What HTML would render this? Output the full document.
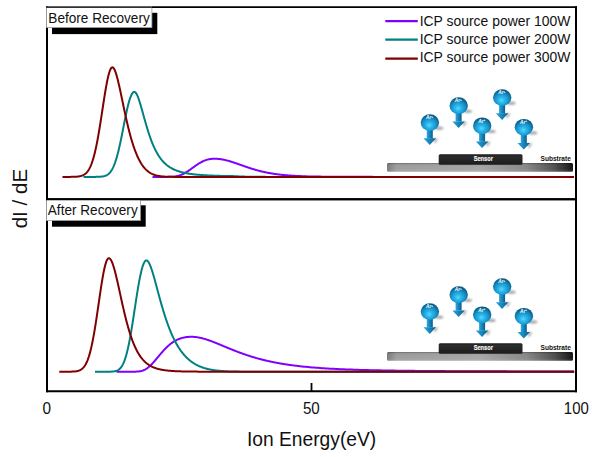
<!DOCTYPE html>
<html><head><meta charset="utf-8">
<style>
html,body{margin:0;padding:0;background:#fff;width:600px;height:457px;overflow:hidden}
svg{display:block}
text{font-family:"Liberation Sans",sans-serif}
</style></head>
<body>
<svg width="600" height="457" viewBox="0 0 600 457">
<defs>
  <radialGradient id="sph" cx="0.48" cy="0.64" r="0.58" fx="0.46" fy="0.66">
    <stop offset="0" stop-color="#52daff"/>
    <stop offset="0.28" stop-color="#2cb8ec"/>
    <stop offset="0.68" stop-color="#168ec6"/>
    <stop offset="1" stop-color="#0a5c88"/>
  </radialGradient>
  <linearGradient id="arr" x1="0" y1="0" x2="1" y2="0">
    <stop offset="0" stop-color="#2ca6dc"/>
    <stop offset="0.45" stop-color="#1888c0"/>
    <stop offset="1" stop-color="#0b5c88"/>
  </linearGradient>
  <linearGradient id="subH" x1="0" y1="0" x2="1" y2="0">
    <stop offset="0" stop-color="#7a7a7a"/>
    <stop offset="0.05" stop-color="#9e9e9e"/>
    <stop offset="0.5" stop-color="#a6a6a6"/>
    <stop offset="0.75" stop-color="#888888"/>
    <stop offset="0.9" stop-color="#505050"/>
    <stop offset="1" stop-color="#141414"/>
  </linearGradient>
  <linearGradient id="subV" x1="0" y1="0" x2="0" y2="1">
    <stop offset="0" stop-color="#000" stop-opacity="0.45"/>
    <stop offset="0.12" stop-color="#000" stop-opacity="0.08"/>
    <stop offset="0.6" stop-color="#fff" stop-opacity="0"/>
    <stop offset="1" stop-color="#fff" stop-opacity="0.1"/>
  </linearGradient>
  <linearGradient id="sens" x1="0" y1="0" x2="0" y2="1">
    <stop offset="0" stop-color="#1a1a1a"/>
    <stop offset="0.2" stop-color="#2c2c2c"/>
    <stop offset="1" stop-color="#1c1c1c"/>
  </linearGradient>
  <filter id="blur" x="-80%" y="-80%" width="260%" height="260%"><feGaussianBlur stdDeviation="1"/></filter>
  <g id="ion">
    <ellipse cx="9.2" cy="5.6" rx="4.3" ry="1.6" fill="#000" opacity="0.35" filter="url(#blur)"/>
    <path d="M3.2 16 L8.6 16 L5 21.5 Z" fill="#000" opacity="0.3" filter="url(#blur)"/>
    <rect x="-3.1" y="6" width="6.0" height="9.9" fill="url(#arr)"/>
    <path d="M-6.4 15.7 L6.1 15.7 L-0.15 22.3 Z" fill="url(#arr)"/>
    <ellipse cx="0" cy="0" rx="9.2" ry="8.4" fill="url(#sph)"/>
    <text x="-0.4" y="-3.3" font-size="4.7" font-weight="700" font-style="italic" fill="#fff" text-anchor="middle">Ar<tspan font-size="2.8" dy="-1.6">+</tspan></text>
  </g>
</defs>

<!-- curves -->
<g fill="none" stroke-width="2" stroke-linejoin="round" stroke-linecap="butt">
  <path d="M152.5 176.90 L153.0 176.90 L153.5 176.90 L154.0 176.90 L154.5 176.90 L155.0 176.90 L155.5 176.90 L156.0 176.90 L156.5 176.90 L157.0 176.90 L157.5 176.90 L158.0 176.90 L158.5 176.90 L159.0 176.90 L159.5 176.90 L160.0 176.90 L160.5 176.90 L161.0 176.90 L161.5 176.90 L162.0 176.90 L162.5 176.90 L163.0 176.90 L163.5 176.90 L164.0 176.90 L164.5 176.90 L165.0 176.89 L165.5 176.89 L166.0 176.89 L166.5 176.89 L167.0 176.88 L167.5 176.88 L168.0 176.87 L168.5 176.86 L169.0 176.85 L169.5 176.84 L170.0 176.83 L170.5 176.81 L171.0 176.79 L171.5 176.76 L172.0 176.73 L172.5 176.70 L173.0 176.66 L173.5 176.62 L174.0 176.56 L174.5 176.51 L175.0 176.44 L175.5 176.37 L176.0 176.29 L176.5 176.20 L177.0 176.10 L177.5 175.99 L178.0 175.87 L178.5 175.74 L179.0 175.59 L179.5 175.44 L180.0 175.28 L180.5 175.10 L181.0 174.91 L181.5 174.71 L182.0 174.50 L182.5 174.27 L183.0 174.04 L183.5 173.79 L184.0 173.53 L184.5 173.26 L185.0 172.99 L185.5 172.70 L186.0 172.40 L186.5 172.09 L187.0 171.77 L187.5 171.44 L188.0 171.11 L188.5 170.77 L189.0 170.43 L189.5 170.08 L190.0 169.72 L190.5 169.37 L191.0 169.00 L191.5 168.64 L192.0 168.28 L192.5 167.91 L193.0 167.55 L193.5 167.18 L194.0 166.82 L194.5 166.46 L195.0 166.10 L195.5 165.75 L196.0 165.40 L196.5 165.06 L197.0 164.72 L197.5 164.39 L198.0 164.06 L198.5 163.75 L199.0 163.44 L199.5 163.13 L200.0 162.84 L200.5 162.56 L201.0 162.28 L201.5 162.01 L202.0 161.76 L202.5 161.51 L203.0 161.28 L203.5 161.05 L204.0 160.84 L204.5 160.63 L205.0 160.44 L205.5 160.26 L206.0 160.08 L206.5 159.92 L207.0 159.77 L207.5 159.63 L208.0 159.50 L208.5 159.38 L209.0 159.27 L209.5 159.18 L210.0 159.09 L210.5 159.01 L211.0 158.94 L211.5 158.89 L212.0 158.84 L212.5 158.80 L213.0 158.77 L213.5 158.75 L214.0 158.73 L214.5 158.73 L215.0 158.73 L215.5 158.74 L216.0 158.76 L216.5 158.78 L217.0 158.81 L217.5 158.84 L218.0 158.88 L218.5 158.92 L219.0 158.98 L219.5 159.03 L220.0 159.10 L220.5 159.16 L221.0 159.24 L221.5 159.31 L222.0 159.40 L222.5 159.49 L223.0 159.58 L223.5 159.68 L224.0 159.78 L224.5 159.89 L225.0 160.00 L225.5 160.12 L226.0 160.24 L226.5 160.36 L227.0 160.49 L227.5 160.62 L228.0 160.76 L228.5 160.90 L229.0 161.04 L229.5 161.18 L230.0 161.33 L230.5 161.48 L231.0 161.63 L231.5 161.79 L232.0 161.95 L232.5 162.11 L233.0 162.27 L233.5 162.44 L234.0 162.60 L234.5 162.77 L235.0 162.94 L235.5 163.11 L236.0 163.28 L236.5 163.45 L237.0 163.63 L237.5 163.80 L238.0 163.98 L238.5 164.16 L239.0 164.33 L239.5 164.51 L240.0 164.69 L240.5 164.86 L241.0 165.04 L241.5 165.22 L242.0 165.40 L242.5 165.57 L243.0 165.75 L243.5 165.93 L244.0 166.10 L244.5 166.28 L245.0 166.45 L245.5 166.62 L246.0 166.80 L246.5 166.97 L247.0 167.14 L247.5 167.31 L248.0 167.48 L248.5 167.64 L249.0 167.81 L249.5 167.97 L250.0 168.14 L250.5 168.30 L251.0 168.46 L251.5 168.62 L252.0 168.77 L252.5 168.93 L253.0 169.08 L253.5 169.24 L254.0 169.39 L254.5 169.53 L255.0 169.68 L255.5 169.83 L256.0 169.97 L256.5 170.11 L257.0 170.25 L257.5 170.39 L258.0 170.52 L258.5 170.66 L259.0 170.79 L259.5 170.92 L260.0 171.04 L260.5 171.17 L261.0 171.29 L261.5 171.41 L262.0 171.53 L262.5 171.65 L263.0 171.77 L263.5 171.88 L264.0 171.99 L264.5 172.10 L265.0 172.21 L265.5 172.32 L266.0 172.42 L266.5 172.53 L267.0 172.63 L267.5 172.72 L268.0 172.82 L268.5 172.92 L269.0 173.01 L269.5 173.10 L270.0 173.19 L270.5 173.28 L271.0 173.36 L271.5 173.45 L272.0 173.53 L272.5 173.61 L273.0 173.69 L273.5 173.77 L274.0 173.84 L274.5 173.92 L275.0 173.99 L275.5 174.06 L276.0 174.13 L276.5 174.20 L277.0 174.27 L277.5 174.33 L278.0 174.40 L278.5 174.46 L279.0 174.52 L279.5 174.58 L280.0 174.64 L280.5 174.69 L281.0 174.75 L281.5 174.80 L282.0 174.86 L282.5 174.91 L283.0 174.96 L283.5 175.01 L284.0 175.06 L284.5 175.10 L285.0 175.15 L285.5 175.19 L286.0 175.24 L286.5 175.28 L287.0 175.32 L287.5 175.36 L288.0 175.40 L288.5 175.44 L289.0 175.48 L289.5 175.52 L290.0 175.55 L290.5 175.59 L291.0 175.62 L291.5 175.65 L292.0 175.69 L292.5 175.72 L293.0 175.75 L293.5 175.78 L294.0 175.81 L294.5 175.84 L295.0 175.87 L295.5 175.89 L296.0 175.92 L296.5 175.94 L297.0 175.97 L297.5 175.99 L298.0 176.02 L298.5 176.04 L299.0 176.06 L299.5 176.09 L300.0 176.11 L302.0 176.19 L304.0 176.26 L306.0 176.32 L308.0 176.38 L310.0 176.43 L312.0 176.48 L314.0 176.52 L316.0 176.56 L318.0 176.59 L320.0 176.62 L322.0 176.65 L324.0 176.67 L326.0 176.70 L328.0 176.72 L330.0 176.73 L332.0 176.75 L334.0 176.76 L336.0 176.78 L338.0 176.79 L340.0 176.80 L342.0 176.81 L344.0 176.82 L346.0 176.82 L348.0 176.83 L350.0 176.84 L352.0 176.84 L354.0 176.85 L356.0 176.85 L358.0 176.85 L360.0 176.86 L362.0 176.86 L364.0 176.86 L366.0 176.87 L368.0 176.87 L370.0 176.87 L372.0 176.87 L374.0 176.88 L376.0 176.88 L378.0 176.88 L380.0 176.88 L382.0 176.88 L384.0 176.88 L386.0 176.88 L388.0 176.89 L390.0 176.89 L392.0 176.89 L394.0 176.89 L396.0 176.89 L398.0 176.89 L400.0 176.89 L402.0 176.89 L404.0 176.89 L406.0 176.89 L408.0 176.89 L410.0 176.89 L412.0 176.89 L414.0 176.89 L416.0 176.89 L418.0 176.89 L420.0 176.89 L422.0 176.89 L424.0 176.89 L426.0 176.89 L428.0 176.89 L430.0 176.90 L432.0 176.90 L434.0 176.90 L436.0 176.90 L438.0 176.90 L440.0 176.90 L442.0 176.90 L444.0 176.90 L446.0 176.90 L448.0 176.90 L450.0 176.90 L452.0 176.90 L454.0 176.90 L456.0 176.90 L458.0 176.90 L460.0 176.90 L462.0 176.90 L464.0 176.90 L466.0 176.90 L468.0 176.90 L470.0 176.90 L472.0 176.90 L474.0 176.90 L476.0 176.90 L478.0 176.90 L480.0 176.90 L482.0 176.90 L484.0 176.90 L486.0 176.90 L488.0 176.90 L490.0 176.90 L492.0 176.90 L494.0 176.90 L496.0 176.90 L498.0 176.90 L500.0 176.90 L502.0 176.90 L504.0 176.90 L506.0 176.90 L508.0 176.90 L510.0 176.90 L512.0 176.90 L514.0 176.90 L516.0 176.90 L518.0 176.90 L520.0 176.90 L522.0 176.90 L524.0 176.90 L526.0 176.90 L528.0 176.90 L530.0 176.90 L532.0 176.90 L534.0 176.90 L536.0 176.90 L538.0 176.90 L540.0 176.90 L542.0 176.90 L544.0 176.90 L546.0 176.90 L548.0 176.90 L550.0 176.90 L552.0 176.90 L554.0 176.90 L556.0 176.90 L558.0 176.90 L560.0 176.90 L562.0 176.90 L564.0 176.90 L566.0 176.90 L568.0 176.90 L570.0 176.90 L572.0 176.90 L574.0 176.90" stroke="#7f00ff"/>
  <path d="M83.5 176.90 L84.0 176.90 L84.5 176.90 L85.0 176.90 L85.5 176.90 L86.0 176.90 L86.5 176.90 L87.0 176.90 L87.5 176.90 L88.0 176.90 L88.5 176.90 L89.0 176.90 L89.5 176.90 L90.0 176.90 L90.5 176.90 L91.0 176.90 L91.5 176.90 L92.0 176.90 L92.5 176.90 L93.0 176.89 L93.5 176.89 L94.0 176.89 L94.5 176.89 L95.0 176.88 L95.5 176.88 L96.0 176.87 L96.5 176.87 L97.0 176.86 L97.5 176.85 L98.0 176.84 L98.5 176.82 L99.0 176.80 L99.5 176.78 L100.0 176.75 L100.5 176.71 L101.0 176.67 L101.5 176.62 L102.0 176.56 L102.5 176.49 L103.0 176.41 L103.5 176.31 L104.0 176.19 L104.5 176.06 L105.0 175.91 L105.5 175.73 L106.0 175.52 L106.5 175.28 L107.0 175.01 L107.5 174.70 L108.0 174.35 L108.5 173.95 L109.0 173.51 L109.5 173.01 L110.0 172.45 L110.5 171.83 L111.0 171.15 L111.5 170.39 L112.0 169.56 L112.5 168.65 L113.0 167.65 L113.5 166.57 L114.0 165.41 L114.5 164.14 L115.0 162.79 L115.5 161.34 L116.0 159.79 L116.5 158.15 L117.0 156.41 L117.5 154.58 L118.0 152.65 L118.5 150.64 L119.0 148.53 L119.5 146.35 L120.0 144.10 L120.5 141.77 L121.0 139.39 L121.5 136.95 L122.0 134.47 L122.5 131.96 L123.0 129.43 L123.5 126.88 L124.0 124.34 L124.5 121.81 L125.0 119.31 L125.5 116.85 L126.0 114.44 L126.5 112.09 L127.0 109.82 L127.5 107.64 L128.0 105.56 L128.5 103.60 L129.0 101.76 L129.5 100.05 L130.0 98.48 L130.5 97.07 L131.0 95.82 L131.5 94.73 L132.0 93.82 L132.5 93.07 L133.0 92.51 L133.5 92.13 L134.0 91.92 L134.5 91.90 L135.0 92.10 L135.5 92.51 L136.0 93.11 L136.5 93.90 L137.0 94.84 L137.5 95.94 L138.0 97.16 L138.5 98.51 L139.0 99.95 L139.5 101.48 L140.0 103.08 L140.5 104.74 L141.0 106.46 L141.5 108.21 L142.0 109.98 L142.5 111.78 L143.0 113.59 L143.5 115.40 L144.0 117.21 L144.5 119.00 L145.0 120.78 L145.5 122.54 L146.0 124.28 L146.5 125.99 L147.0 127.66 L147.5 129.31 L148.0 130.91 L148.5 132.48 L149.0 134.01 L149.5 135.50 L150.0 136.95 L150.5 138.36 L151.0 139.72 L151.5 141.05 L152.0 142.33 L152.5 143.57 L153.0 144.77 L153.5 145.93 L154.0 147.05 L154.5 148.14 L155.0 149.18 L155.5 150.18 L156.0 151.15 L156.5 152.09 L157.0 152.99 L157.5 153.85 L158.0 154.69 L158.5 155.49 L159.0 156.26 L159.5 157.00 L160.0 157.71 L160.5 158.40 L161.0 159.05 L161.5 159.69 L162.0 160.30 L162.5 160.88 L163.0 161.44 L163.5 161.98 L164.0 162.50 L164.5 163.00 L165.0 163.47 L165.5 163.93 L166.0 164.37 L166.5 164.80 L167.0 165.21 L167.5 165.60 L168.0 165.97 L168.5 166.33 L169.0 166.68 L169.5 167.02 L170.0 167.34 L170.5 167.64 L171.0 167.94 L171.5 168.23 L172.0 168.50 L172.5 168.76 L173.0 169.02 L173.5 169.26 L174.0 169.50 L174.5 169.72 L175.0 169.94 L175.5 170.15 L176.0 170.35 L176.5 170.54 L177.0 170.73 L177.5 170.91 L178.0 171.08 L178.5 171.25 L179.0 171.41 L179.5 171.56 L180.0 171.71 L180.5 171.86 L181.0 172.00 L181.5 172.13 L182.0 172.26 L182.5 172.38 L183.0 172.50 L183.5 172.62 L184.0 172.73 L184.5 172.84 L185.0 172.94 L185.5 173.05 L186.0 173.14 L186.5 173.24 L187.0 173.33 L187.5 173.42 L188.0 173.50 L188.5 173.58 L189.0 173.66 L189.5 173.74 L190.0 173.81 L190.5 173.89 L191.0 173.96 L191.5 174.02 L192.0 174.09 L192.5 174.15 L193.0 174.21 L193.5 174.27 L194.0 174.33 L194.5 174.39 L195.0 174.44 L195.5 174.49 L196.0 174.54 L196.5 174.59 L197.0 174.64 L197.5 174.69 L198.0 174.73 L198.5 174.77 L199.0 174.82 L199.5 174.86 L200.0 174.90 L200.5 174.94 L201.0 174.97 L201.5 175.01 L202.0 175.05 L202.5 175.08 L203.0 175.11 L203.5 175.15 L204.0 175.18 L204.5 175.21 L205.0 175.24 L205.5 175.27 L206.0 175.30 L206.5 175.32 L207.0 175.35 L207.5 175.38 L208.0 175.40 L208.5 175.43 L209.0 175.45 L209.5 175.47 L210.0 175.50 L210.5 175.52 L211.0 175.54 L211.5 175.56 L212.0 175.58 L212.5 175.60 L213.0 175.62 L213.5 175.64 L214.0 175.66 L214.5 175.68 L215.0 175.69 L215.5 175.71 L216.0 175.73 L216.5 175.74 L217.0 175.76 L217.5 175.78 L218.0 175.79 L218.5 175.81 L219.0 175.82 L219.5 175.83 L220.0 175.85 L220.5 175.86 L221.0 175.88 L221.5 175.89 L222.0 175.90 L222.5 175.91 L223.0 175.92 L223.5 175.94 L224.0 175.95 L224.5 175.96 L225.0 175.97 L225.5 175.98 L226.0 175.99 L226.5 176.00 L227.0 176.01 L227.5 176.02 L228.0 176.03 L228.5 176.04 L229.0 176.05 L229.5 176.06 L230.0 176.07 L230.5 176.08 L231.0 176.08 L231.5 176.09 L232.0 176.10 L232.5 176.11 L233.0 176.12 L233.5 176.12 L234.0 176.13 L234.5 176.15 L235.0 176.18 L235.5 176.22 L236.0 176.25 L236.5 176.28 L237.0 176.31 L237.5 176.34 L238.0 176.36 L238.5 176.39 L239.0 176.41 L239.5 176.44 L240.0 176.46 L240.5 176.48 L241.0 176.50 L241.5 176.52 L242.0 176.54 L242.5 176.56 L243.0 176.57 L243.5 176.59 L244.0 176.61 L244.5 176.62 L245.0 176.64 L245.5 176.65 L246.0 176.66 L246.5 176.67 L247.0 176.69 L247.5 176.70 L248.0 176.71 L248.5 176.72 L249.0 176.73 L249.5 176.74 L250.0 176.74 L250.5 176.75 L251.0 176.76 L251.5 176.77 L252.0 176.78 L252.5 176.78 L253.0 176.79 L253.5 176.79 L254.0 176.80 L254.5 176.81 L255.0 176.81 L255.5 176.82 L256.0 176.82 L256.5 176.83 L257.0 176.83 L257.5 176.83 L258.0 176.84 L258.5 176.84 L259.0 176.84 L259.5 176.85 L260.0 176.85 L260.5 176.85 L261.0 176.86 L261.5 176.86 L262.0 176.86 L262.5 176.86 L263.0 176.87 L263.5 176.87 L264.0 176.87 L264.5 176.87 L265.0 176.87 L265.5 176.87 L266.0 176.88 L266.5 176.88 L267.0 176.88 L267.5 176.88 L268.0 176.88 L268.5 176.88 L269.0 176.88 L269.5 176.88 L270.0 176.89 L270.5 176.89 L271.0 176.89 L271.5 176.89 L272.0 176.89 L272.5 176.89 L273.0 176.89 L273.5 176.89 L274.0 176.89 L274.5 176.89 L275.0 176.89 L275.5 176.89 L276.0 176.89 L276.5 176.89 L277.0 176.89 L277.5 176.89 L278.0 176.89 L278.5 176.90 L279.0 176.90 L279.5 176.90 L280.0 176.90 L280.5 176.90 L281.0 176.90 L281.5 176.90 L282.0 176.90 L282.5 176.90 L283.0 176.90 L283.5 176.90 L284.0 176.90 L284.5 176.90 L285.0 176.90 L285.5 176.90 L286.0 176.90 L286.5 176.90 L287.0 176.90 L287.5 176.90 L288.0 176.90 L288.5 176.90 L289.0 176.90 L289.5 176.90 L290.0 176.90 L290.5 176.90 L291.0 176.90 L291.5 176.90 L292.0 176.90 L292.5 176.90 L293.0 176.90 L293.5 176.90 L294.0 176.90 L294.5 176.90 L295.0 176.90 L295.5 176.90 L296.0 176.90 L296.5 176.90 L297.0 176.90 L297.5 176.90 L298.0 176.90 L298.5 176.90 L299.0 176.90 L299.5 176.90 L300.0 176.90 L302.0 176.90 L304.0 176.90 L306.0 176.90 L308.0 176.90 L310.0 176.90 L312.0 176.90 L314.0 176.90 L316.0 176.90 L318.0 176.90 L320.0 176.90 L322.0 176.90 L324.0 176.90 L326.0 176.90 L328.0 176.90 L330.0 176.90 L332.0 176.90 L334.0 176.90 L336.0 176.90 L338.0 176.90 L340.0 176.90 L342.0 176.90 L344.0 176.90 L346.0 176.90 L348.0 176.90 L350.0 176.90 L352.0 176.90 L354.0 176.90 L356.0 176.90 L358.0 176.90 L360.0 176.90 L362.0 176.90 L364.0 176.90 L366.0 176.90 L368.0 176.90 L370.0 176.90 L372.0 176.90 L374.0 176.90 L376.0 176.90 L378.0 176.90 L380.0 176.90 L382.0 176.90 L384.0 176.90 L386.0 176.90 L388.0 176.90 L390.0 176.90 L392.0 176.90 L394.0 176.90 L396.0 176.90 L398.0 176.90 L400.0 176.90 L402.0 176.90 L404.0 176.90 L406.0 176.90 L408.0 176.90 L410.0 176.90 L412.0 176.90 L414.0 176.90 L416.0 176.90 L418.0 176.90 L420.0 176.90 L422.0 176.90 L424.0 176.90 L426.0 176.90 L428.0 176.90 L430.0 176.90 L432.0 176.90 L434.0 176.90 L436.0 176.90 L438.0 176.90 L440.0 176.90 L442.0 176.90 L444.0 176.90 L446.0 176.90 L448.0 176.90 L450.0 176.90 L452.0 176.90 L454.0 176.90 L456.0 176.90 L458.0 176.90 L460.0 176.90 L462.0 176.90 L464.0 176.90 L466.0 176.90 L468.0 176.90 L470.0 176.90 L472.0 176.90 L474.0 176.90 L476.0 176.90 L478.0 176.90 L480.0 176.90 L482.0 176.90 L484.0 176.90 L486.0 176.90 L488.0 176.90 L490.0 176.90 L492.0 176.90 L494.0 176.90 L496.0 176.90 L498.0 176.90 L500.0 176.90 L502.0 176.90 L504.0 176.90 L506.0 176.90 L508.0 176.90 L510.0 176.90 L512.0 176.90 L514.0 176.90 L516.0 176.90 L518.0 176.90 L520.0 176.90 L522.0 176.90 L524.0 176.90 L526.0 176.90 L528.0 176.90 L530.0 176.90 L532.0 176.90 L534.0 176.90 L536.0 176.90 L538.0 176.90 L540.0 176.90 L542.0 176.90 L544.0 176.90 L546.0 176.90 L548.0 176.90 L550.0 176.90 L552.0 176.90 L554.0 176.90 L556.0 176.90 L558.0 176.90 L560.0 176.90 L562.0 176.90 L564.0 176.90 L566.0 176.90 L568.0 176.90 L570.0 176.90 L572.0 176.90 L574.0 176.90" stroke="#008080"/>
  <path d="M62.5 176.90 L63.0 176.90 L63.5 176.90 L64.0 176.90 L64.5 176.90 L65.0 176.90 L65.5 176.90 L66.0 176.90 L66.5 176.90 L67.0 176.89 L67.5 176.89 L68.0 176.89 L68.5 176.89 L69.0 176.89 L69.5 176.88 L70.0 176.88 L70.5 176.88 L71.0 176.87 L71.5 176.86 L72.0 176.86 L72.5 176.85 L73.0 176.84 L73.5 176.82 L74.0 176.81 L74.5 176.79 L75.0 176.77 L75.5 176.74 L76.0 176.71 L76.5 176.68 L77.0 176.64 L77.5 176.59 L78.0 176.54 L78.5 176.47 L79.0 176.40 L79.5 176.31 L80.0 176.21 L80.5 176.10 L81.0 175.97 L81.5 175.82 L82.0 175.65 L82.5 175.45 L83.0 175.23 L83.5 174.98 L84.0 174.70 L84.5 174.38 L85.0 174.03 L85.5 173.63 L86.0 173.18 L86.5 172.69 L87.0 172.13 L87.5 171.52 L88.0 170.84 L88.5 170.10 L89.0 169.28 L89.5 168.38 L90.0 167.39 L90.5 166.32 L91.0 165.15 L91.5 163.89 L92.0 162.52 L92.5 161.05 L93.0 159.47 L93.5 157.78 L94.0 155.97 L94.5 154.04 L95.0 151.99 L95.5 149.83 L96.0 147.55 L96.5 145.15 L97.0 142.63 L97.5 140.01 L98.0 137.28 L98.5 134.45 L99.0 131.52 L99.5 128.51 L100.0 125.42 L100.5 122.27 L101.0 119.07 L101.5 115.82 L102.0 112.55 L102.5 109.27 L103.0 105.99 L103.5 102.73 L104.0 99.51 L104.5 96.35 L105.0 93.26 L105.5 90.26 L106.0 87.38 L106.5 84.62 L107.0 82.01 L107.5 79.57 L108.0 77.31 L108.5 75.25 L109.0 73.40 L109.5 71.77 L110.0 70.39 L110.5 69.25 L111.0 68.36 L111.5 67.75 L112.0 67.40 L112.5 67.32 L113.0 67.51 L113.5 67.97 L114.0 68.66 L114.5 69.58 L115.0 70.71 L115.5 72.02 L116.0 73.51 L116.5 75.14 L117.0 76.92 L117.5 78.81 L118.0 80.81 L118.5 82.90 L119.0 85.06 L119.5 87.29 L120.0 89.58 L120.5 91.90 L121.0 94.26 L121.5 96.64 L122.0 99.03 L122.5 101.42 L123.0 103.82 L123.5 106.20 L124.0 108.57 L124.5 110.92 L125.0 113.24 L125.5 115.53 L126.0 117.79 L126.5 120.01 L127.0 122.19 L127.5 124.33 L128.0 126.42 L128.5 128.46 L129.0 130.46 L129.5 132.41 L130.0 134.30 L130.5 136.14 L131.0 137.93 L131.5 139.67 L132.0 141.36 L132.5 142.99 L133.0 144.57 L133.5 146.09 L134.0 147.57 L134.5 148.99 L135.0 150.36 L135.5 151.68 L136.0 152.96 L136.5 154.18 L137.0 155.36 L137.5 156.49 L138.0 157.57 L138.5 158.61 L139.0 159.61 L139.5 160.56 L140.0 161.47 L140.5 162.34 L141.0 163.18 L141.5 163.97 L142.0 164.73 L142.5 165.45 L143.0 166.14 L143.5 166.79 L144.0 167.42 L144.5 168.01 L145.0 168.57 L145.5 169.10 L146.0 169.61 L146.5 170.08 L147.0 170.54 L147.5 170.96 L148.0 171.37 L148.5 171.75 L149.0 172.11 L149.5 172.45 L150.0 172.77 L150.5 173.07 L151.0 173.35 L151.5 173.61 L152.0 173.86 L152.5 174.09 L153.0 174.31 L153.5 174.51 L154.0 174.70 L154.5 174.88 L155.0 175.05 L155.5 175.20 L156.0 175.34 L156.5 175.48 L157.0 175.60 L157.5 175.71 L158.0 175.82 L158.5 175.92 L159.0 176.01 L159.5 176.09 L160.0 176.17 L160.5 176.24 L161.0 176.30 L161.5 176.36 L162.0 176.41 L162.5 176.46 L163.0 176.51 L163.5 176.55 L164.0 176.59 L164.5 176.62 L165.0 176.65 L165.5 176.68 L166.0 176.70 L166.5 176.73 L167.0 176.75 L167.5 176.76 L168.0 176.78 L168.5 176.80 L169.0 176.81 L169.5 176.82 L170.0 176.83 L170.5 176.84 L171.0 176.85 L171.5 176.85 L172.0 176.86 L172.5 176.87 L173.0 176.87 L173.5 176.88 L174.0 176.88 L174.5 176.88 L175.0 176.88 L175.5 176.89 L176.0 176.89 L176.5 176.89 L177.0 176.89 L177.5 176.89 L178.0 176.89 L178.5 176.90 L179.0 176.90 L179.5 176.90 L180.0 176.90 L180.5 176.90 L181.0 176.90 L181.5 176.90 L182.0 176.90 L182.5 176.90 L183.0 176.90 L183.5 176.90 L184.0 176.90 L184.5 176.90 L185.0 176.90 L185.5 176.90 L186.0 176.90 L186.5 176.90 L187.0 176.90 L187.5 176.90 L188.0 176.90 L188.5 176.90 L189.0 176.90 L189.5 176.90 L190.0 176.90 L190.5 176.90 L191.0 176.90 L191.5 176.90 L192.0 176.90 L192.5 176.90 L193.0 176.90 L193.5 176.90 L194.0 176.90 L194.5 176.90 L195.0 176.90 L195.5 176.90 L196.0 176.90 L196.5 176.90 L197.0 176.90 L197.5 176.90 L198.0 176.90 L198.5 176.90 L199.0 176.90 L199.5 176.90 L200.0 176.90 L200.5 176.90 L201.0 176.90 L201.5 176.90 L202.0 176.90 L202.5 176.90 L203.0 176.90 L203.5 176.90 L204.0 176.90 L204.5 176.90 L205.0 176.90 L205.5 176.90 L206.0 176.90 L206.5 176.90 L207.0 176.90 L207.5 176.90 L208.0 176.90 L208.5 176.90 L209.0 176.90 L209.5 176.90 L210.0 176.90 L210.5 176.90 L211.0 176.90 L211.5 176.90 L212.0 176.90 L212.5 176.90 L213.0 176.90 L213.5 176.90 L214.0 176.90 L214.5 176.90 L215.0 176.90 L215.5 176.90 L216.0 176.90 L216.5 176.90 L217.0 176.90 L217.5 176.90 L218.0 176.90 L218.5 176.90 L219.0 176.90 L219.5 176.90 L220.0 176.90 L220.5 176.90 L221.0 176.90 L221.5 176.90 L222.0 176.90 L222.5 176.90 L223.0 176.90 L223.5 176.90 L224.0 176.90 L224.5 176.90 L225.0 176.90 L225.5 176.90 L226.0 176.90 L226.5 176.90 L227.0 176.90 L227.5 176.90 L228.0 176.90 L228.5 176.90 L229.0 176.90 L229.5 176.90 L230.0 176.90 L230.5 176.90 L231.0 176.90 L231.5 176.90 L232.0 176.90 L232.5 176.90 L233.0 176.90 L233.5 176.90 L234.0 176.90 L234.5 176.90 L235.0 176.90 L235.5 176.90 L236.0 176.90 L236.5 176.90 L237.0 176.90 L237.5 176.90 L238.0 176.90 L238.5 176.90 L239.0 176.90 L239.5 176.90 L240.0 176.90 L240.5 176.90 L241.0 176.90 L241.5 176.90 L242.0 176.90 L242.5 176.90 L243.0 176.90 L243.5 176.90 L244.0 176.90 L244.5 176.90 L245.0 176.90 L245.5 176.90 L246.0 176.90 L246.5 176.90 L247.0 176.90 L247.5 176.90 L248.0 176.90 L248.5 176.90 L249.0 176.90 L249.5 176.90 L250.0 176.90 L250.5 176.90 L251.0 176.90 L251.5 176.90 L252.0 176.90 L252.5 176.90 L253.0 176.90 L253.5 176.90 L254.0 176.90 L254.5 176.90 L255.0 176.90 L255.5 176.90 L256.0 176.90 L256.5 176.90 L257.0 176.90 L257.5 176.90 L258.0 176.90 L258.5 176.90 L259.0 176.90 L259.5 176.90 L260.0 176.90 L260.5 176.90 L261.0 176.90 L261.5 176.90 L262.0 176.90 L262.5 176.90 L263.0 176.90 L263.5 176.90 L264.0 176.90 L264.5 176.90 L265.0 176.90 L265.5 176.90 L266.0 176.90 L266.5 176.90 L267.0 176.90 L267.5 176.90 L268.0 176.90 L268.5 176.90 L269.0 176.90 L269.5 176.90 L270.0 176.90 L270.5 176.90 L271.0 176.90 L271.5 176.90 L272.0 176.90 L272.5 176.90 L273.0 176.90 L273.5 176.90 L274.0 176.90 L274.5 176.90 L275.0 176.90 L275.5 176.90 L276.0 176.90 L276.5 176.90 L277.0 176.90 L277.5 176.90 L278.0 176.90 L278.5 176.90 L279.0 176.90 L279.5 176.90 L280.0 176.90 L280.5 176.90 L281.0 176.90 L281.5 176.90 L282.0 176.90 L282.5 176.90 L283.0 176.90 L283.5 176.90 L284.0 176.90 L284.5 176.90 L285.0 176.90 L285.5 176.90 L286.0 176.90 L286.5 176.90 L287.0 176.90 L287.5 176.90 L288.0 176.90 L288.5 176.90 L289.0 176.90 L289.5 176.90 L290.0 176.90 L290.5 176.90 L291.0 176.90 L291.5 176.90 L292.0 176.90 L292.5 176.90 L293.0 176.90 L293.5 176.90 L294.0 176.90 L294.5 176.90 L295.0 176.90 L295.5 176.90 L296.0 176.90 L296.5 176.90 L297.0 176.90 L297.5 176.90 L298.0 176.90 L298.5 176.90 L299.0 176.90 L299.5 176.90 L300.0 176.90 L302.0 176.90 L304.0 176.90 L306.0 176.90 L308.0 176.90 L310.0 176.90 L312.0 176.90 L314.0 176.90 L316.0 176.90 L318.0 176.90 L320.0 176.90 L322.0 176.90 L324.0 176.90 L326.0 176.90 L328.0 176.90 L330.0 176.90 L332.0 176.90 L334.0 176.90 L336.0 176.90 L338.0 176.90 L340.0 176.90 L342.0 176.90 L344.0 176.90 L346.0 176.90 L348.0 176.90 L350.0 176.90 L352.0 176.90 L354.0 176.90 L356.0 176.90 L358.0 176.90 L360.0 176.90 L362.0 176.90 L364.0 176.90 L366.0 176.90 L368.0 176.90 L370.0 176.90 L372.0 176.90 L374.0 176.90 L376.0 176.90 L378.0 176.90 L380.0 176.90 L382.0 176.90 L384.0 176.90 L386.0 176.90 L388.0 176.90 L390.0 176.90 L392.0 176.90 L394.0 176.90 L396.0 176.90 L398.0 176.90 L400.0 176.90 L402.0 176.90 L404.0 176.90 L406.0 176.90 L408.0 176.90 L410.0 176.90 L412.0 176.90 L414.0 176.90 L416.0 176.90 L418.0 176.90 L420.0 176.90 L422.0 176.90 L424.0 176.90 L426.0 176.90 L428.0 176.90 L430.0 176.90 L432.0 176.90 L434.0 176.90 L436.0 176.90 L438.0 176.90 L440.0 176.90 L442.0 176.90 L444.0 176.90 L446.0 176.90 L448.0 176.90 L450.0 176.90 L452.0 176.90 L454.0 176.90 L456.0 176.90 L458.0 176.90 L460.0 176.90 L462.0 176.90 L464.0 176.90 L466.0 176.90 L468.0 176.90 L470.0 176.90 L472.0 176.90 L474.0 176.90 L476.0 176.90 L478.0 176.90 L480.0 176.90 L482.0 176.90 L484.0 176.90 L486.0 176.90 L488.0 176.90 L490.0 176.90 L492.0 176.90 L494.0 176.90 L496.0 176.90 L498.0 176.90 L500.0 176.90 L502.0 176.90 L504.0 176.90 L506.0 176.90 L508.0 176.90 L510.0 176.90 L512.0 176.90 L514.0 176.90 L516.0 176.90 L518.0 176.90 L520.0 176.90 L522.0 176.90 L524.0 176.90 L526.0 176.90 L528.0 176.90 L530.0 176.90 L532.0 176.90 L534.0 176.90 L536.0 176.90 L538.0 176.90 L540.0 176.90 L542.0 176.90 L544.0 176.90 L546.0 176.90 L548.0 176.90 L550.0 176.90 L552.0 176.90 L554.0 176.90 L556.0 176.90 L558.0 176.90 L560.0 176.90 L562.0 176.90 L564.0 176.90 L566.0 176.90 L568.0 176.90 L570.0 176.90 L572.0 176.90 L574.0 176.90" stroke="#800000"/>
  <path d="M116.5 371.70 L117.0 371.70 L117.5 371.70 L118.0 371.70 L118.5 371.70 L119.0 371.70 L119.5 371.70 L120.0 371.70 L120.5 371.70 L121.0 371.70 L121.5 371.70 L122.0 371.70 L122.5 371.70 L123.0 371.70 L123.5 371.70 L124.0 371.70 L124.5 371.70 L125.0 371.70 L125.5 371.70 L126.0 371.70 L126.5 371.70 L127.0 371.70 L127.5 371.70 L128.0 371.70 L128.5 371.70 L129.0 371.70 L129.5 371.70 L130.0 371.70 L130.5 371.70 L131.0 371.70 L131.5 371.70 L132.0 371.70 L132.5 371.69 L133.0 371.69 L133.5 371.69 L134.0 371.68 L134.5 371.67 L135.0 371.66 L135.5 371.65 L136.0 371.63 L136.5 371.61 L137.0 371.58 L137.5 371.55 L138.0 371.51 L138.5 371.46 L139.0 371.40 L139.5 371.33 L140.0 371.25 L140.5 371.15 L141.0 371.05 L141.5 370.92 L142.0 370.78 L142.5 370.62 L143.0 370.45 L143.5 370.26 L144.0 370.04 L144.5 369.81 L145.0 369.56 L145.5 369.28 L146.0 368.99 L146.5 368.67 L147.0 368.34 L147.5 367.98 L148.0 367.60 L148.5 367.21 L149.0 366.79 L149.5 366.35 L150.0 365.90 L150.5 365.43 L151.0 364.94 L151.5 364.44 L152.0 363.93 L152.5 363.40 L153.0 362.85 L153.5 362.30 L154.0 361.74 L154.5 361.17 L155.0 360.59 L155.5 360.00 L156.0 359.41 L156.5 358.82 L157.0 358.22 L157.5 357.62 L158.0 357.02 L158.5 356.42 L159.0 355.82 L159.5 355.22 L160.0 354.62 L160.5 354.03 L161.0 353.44 L161.5 352.86 L162.0 352.29 L162.5 351.72 L163.0 351.16 L163.5 350.61 L164.0 350.06 L164.5 349.53 L165.0 349.00 L165.5 348.49 L166.0 347.98 L166.5 347.49 L167.0 347.00 L167.5 346.53 L168.0 346.07 L168.5 345.62 L169.0 345.18 L169.5 344.76 L170.0 344.35 L170.5 343.95 L171.0 343.56 L171.5 343.18 L172.0 342.82 L172.5 342.47 L173.0 342.13 L173.5 341.80 L174.0 341.49 L174.5 341.18 L175.0 340.89 L175.5 340.61 L176.0 340.35 L176.5 340.09 L177.0 339.84 L177.5 339.61 L178.0 339.39 L178.5 339.18 L179.0 338.97 L179.5 338.78 L180.0 338.60 L180.5 338.43 L181.0 338.27 L181.5 338.12 L182.0 337.98 L182.5 337.85 L183.0 337.72 L183.5 337.61 L184.0 337.50 L184.5 337.40 L185.0 337.31 L185.5 337.23 L186.0 337.16 L186.5 337.09 L187.0 337.03 L187.5 336.98 L188.0 336.93 L188.5 336.89 L189.0 336.86 L189.5 336.84 L190.0 336.82 L190.5 336.80 L191.0 336.79 L191.5 336.79 L192.0 336.80 L192.5 336.81 L193.0 336.82 L193.5 336.85 L194.0 336.88 L194.5 336.92 L195.0 336.97 L195.5 337.02 L196.0 337.08 L196.5 337.14 L197.0 337.21 L197.5 337.29 L198.0 337.37 L198.5 337.46 L199.0 337.55 L199.5 337.65 L200.0 337.75 L200.5 337.86 L201.0 337.98 L201.5 338.09 L202.0 338.22 L202.5 338.35 L203.0 338.48 L203.5 338.61 L204.0 338.75 L204.5 338.90 L205.0 339.05 L205.5 339.20 L206.0 339.35 L206.5 339.51 L207.0 339.67 L207.5 339.84 L208.0 340.01 L208.5 340.18 L209.0 340.35 L209.5 340.53 L210.0 340.70 L210.5 340.89 L211.0 341.07 L211.5 341.25 L212.0 341.44 L212.5 341.63 L213.0 341.82 L213.5 342.01 L214.0 342.21 L214.5 342.41 L215.0 342.60 L215.5 342.80 L216.0 343.00 L216.5 343.20 L217.0 343.41 L217.5 343.61 L218.0 343.81 L218.5 344.02 L219.0 344.22 L219.5 344.43 L220.0 344.64 L220.5 344.84 L221.0 345.05 L221.5 345.26 L222.0 345.47 L222.5 345.68 L223.0 345.89 L223.5 346.09 L224.0 346.30 L224.5 346.51 L225.0 346.72 L225.5 346.93 L226.0 347.14 L226.5 347.35 L227.0 347.55 L227.5 347.76 L228.0 347.97 L228.5 348.17 L229.0 348.38 L229.5 348.58 L230.0 348.79 L230.5 348.99 L231.0 349.20 L231.5 349.40 L232.0 349.60 L232.5 349.80 L233.0 350.00 L233.5 350.20 L234.0 350.40 L234.5 350.59 L235.0 350.79 L235.5 350.99 L236.0 351.18 L236.5 351.37 L237.0 351.57 L237.5 351.76 L238.0 351.95 L238.5 352.14 L239.0 352.32 L239.5 352.51 L240.0 352.70 L240.5 352.88 L241.0 353.06 L241.5 353.25 L242.0 353.43 L242.5 353.61 L243.0 353.78 L243.5 353.96 L244.0 354.14 L244.5 354.31 L245.0 354.48 L245.5 354.65 L246.0 354.83 L246.5 354.99 L247.0 355.16 L247.5 355.33 L248.0 355.49 L248.5 355.66 L249.0 355.82 L249.5 355.98 L250.0 356.14 L250.5 356.30 L251.0 356.46 L251.5 356.61 L252.0 356.77 L252.5 356.92 L253.0 357.07 L253.5 357.22 L254.0 357.37 L254.5 357.52 L255.0 357.66 L255.5 357.81 L256.0 357.95 L256.5 358.09 L257.0 358.24 L257.5 358.37 L258.0 358.51 L258.5 358.65 L259.0 358.79 L259.5 358.92 L260.0 359.05 L260.5 359.19 L261.0 359.32 L261.5 359.45 L262.0 359.57 L262.5 359.70 L263.0 359.83 L263.5 359.95 L264.0 360.07 L264.5 360.19 L265.0 360.31 L265.5 360.43 L266.0 360.55 L266.5 360.67 L267.0 360.78 L267.5 360.90 L268.0 361.01 L268.5 361.12 L269.0 361.24 L269.5 361.35 L270.0 361.45 L270.5 361.56 L271.0 361.67 L271.5 361.77 L272.0 361.88 L272.5 361.98 L273.0 362.08 L273.5 362.18 L274.0 362.28 L274.5 362.38 L275.0 362.48 L275.5 362.58 L276.0 362.67 L276.5 362.77 L277.0 362.86 L277.5 362.95 L278.0 363.04 L278.5 363.13 L279.0 363.22 L279.5 363.31 L280.0 363.40 L280.5 363.49 L281.0 363.57 L281.5 363.66 L282.0 363.74 L282.5 363.82 L283.0 363.90 L283.5 363.99 L284.0 364.07 L284.5 364.15 L285.0 364.22 L285.5 364.30 L286.0 364.38 L286.5 364.45 L287.0 364.53 L287.5 364.60 L288.0 364.68 L288.5 364.75 L289.0 364.82 L289.5 364.89 L290.0 364.96 L290.5 365.03 L291.0 365.10 L291.5 365.17 L292.0 365.23 L292.5 365.30 L293.0 365.37 L293.5 365.43 L294.0 365.49 L294.5 365.56 L295.0 365.62 L295.5 365.68 L296.0 365.74 L296.5 365.80 L297.0 365.86 L297.5 365.92 L298.0 365.98 L298.5 366.04 L299.0 366.10 L299.5 366.15 L300.0 366.21 L302.0 366.43 L304.0 366.63 L306.0 366.83 L308.0 367.02 L310.0 367.20 L312.0 367.38 L314.0 367.54 L316.0 367.70 L318.0 367.85 L320.0 368.00 L322.0 368.13 L324.0 368.27 L326.0 368.39 L328.0 368.51 L330.0 368.63 L332.0 368.74 L334.0 368.85 L336.0 368.95 L338.0 369.04 L340.0 369.14 L342.0 369.23 L344.0 369.31 L346.0 369.39 L348.0 369.47 L350.0 369.55 L352.0 369.62 L354.0 369.69 L356.0 369.75 L358.0 369.82 L360.0 369.88 L362.0 369.94 L364.0 369.99 L366.0 370.05 L368.0 370.10 L370.0 370.15 L372.0 370.19 L374.0 370.24 L376.0 370.28 L378.0 370.33 L380.0 370.37 L382.0 370.41 L384.0 370.44 L386.0 370.48 L388.0 370.52 L390.0 370.55 L392.0 370.58 L394.0 370.61 L396.0 370.64 L398.0 370.67 L400.0 370.70 L402.0 370.73 L404.0 370.75 L406.0 370.78 L408.0 370.80 L410.0 370.82 L412.0 370.85 L414.0 370.87 L416.0 370.89 L418.0 370.91 L420.0 370.93 L422.0 370.95 L424.0 370.97 L426.0 370.98 L428.0 371.00 L430.0 371.02 L432.0 371.03 L434.0 371.05 L436.0 371.06 L438.0 371.08 L440.0 371.09 L442.0 371.10 L444.0 371.12 L446.0 371.13 L448.0 371.14 L450.0 371.15 L452.0 371.16 L454.0 371.18 L456.0 371.19 L458.0 371.20 L460.0 371.21 L462.0 371.22 L464.0 371.23 L466.0 371.24 L468.0 371.25 L470.0 371.25 L472.0 371.26 L474.0 371.27 L476.0 371.28 L478.0 371.29 L480.0 371.29 L482.0 371.30 L484.0 371.31 L486.0 371.32 L488.0 371.32 L490.0 371.33 L492.0 371.33 L494.0 371.34 L496.0 371.35 L498.0 371.35 L500.0 371.36 L502.0 371.36 L504.0 371.37 L506.0 371.37 L508.0 371.38 L510.0 371.38 L512.0 371.39 L514.0 371.39 L516.0 371.40 L518.0 371.40 L520.0 371.41 L522.0 371.41 L524.0 371.42 L526.0 371.42 L528.0 371.42 L530.0 371.43 L532.0 371.43 L534.0 371.44 L536.0 371.44 L538.0 371.44 L540.0 371.45 L542.0 371.45 L544.0 371.45 L546.0 371.46 L548.0 371.46 L550.0 371.46 L552.0 371.46 L554.0 371.47 L556.0 371.47 L558.0 371.47 L560.0 371.48 L562.0 371.48 L564.0 371.48 L566.0 371.48 L568.0 371.49 L570.0 371.49 L572.0 371.49 L574.0 371.49" stroke="#7f00ff"/>
  <path d="M95.0 371.70 L95.5 371.70 L96.0 371.70 L96.5 371.70 L97.0 371.70 L97.5 371.70 L98.0 371.70 L98.5 371.70 L99.0 371.70 L99.5 371.70 L100.0 371.70 L100.5 371.70 L101.0 371.70 L101.5 371.70 L102.0 371.70 L102.5 371.70 L103.0 371.70 L103.5 371.70 L104.0 371.70 L104.5 371.70 L105.0 371.70 L105.5 371.70 L106.0 371.70 L106.5 371.69 L107.0 371.69 L107.5 371.69 L108.0 371.69 L108.5 371.68 L109.0 371.68 L109.5 371.67 L110.0 371.66 L110.5 371.64 L111.0 371.63 L111.5 371.60 L112.0 371.58 L112.5 371.54 L113.0 371.50 L113.5 371.45 L114.0 371.38 L114.5 371.30 L115.0 371.21 L115.5 371.09 L116.0 370.96 L116.5 370.79 L117.0 370.60 L117.5 370.37 L118.0 370.10 L118.5 369.79 L119.0 369.44 L119.5 369.02 L120.0 368.55 L120.5 368.01 L121.0 367.40 L121.5 366.71 L122.0 365.94 L122.5 365.07 L123.0 364.11 L123.5 363.05 L124.0 361.88 L124.5 360.59 L125.0 359.19 L125.5 357.66 L126.0 356.01 L126.5 354.24 L127.0 352.33 L127.5 350.29 L128.0 348.13 L128.5 345.83 L129.0 343.41 L129.5 340.87 L130.0 338.22 L130.5 335.45 L131.0 332.58 L131.5 329.62 L132.0 326.57 L132.5 323.45 L133.0 320.27 L133.5 317.03 L134.0 313.76 L134.5 310.47 L135.0 307.17 L135.5 303.88 L136.0 300.61 L136.5 297.38 L137.0 294.21 L137.5 291.10 L138.0 288.07 L138.5 285.15 L139.0 282.33 L139.5 279.64 L140.0 277.09 L140.5 274.70 L141.0 272.46 L141.5 270.39 L142.0 268.50 L142.5 266.80 L143.0 265.29 L143.5 263.98 L144.0 262.87 L144.5 261.97 L145.0 261.27 L145.5 260.78 L146.0 260.49 L146.5 260.41 L147.0 260.53 L147.5 260.86 L148.0 261.38 L148.5 262.07 L149.0 262.92 L149.5 263.91 L150.0 265.03 L150.5 266.26 L151.0 267.60 L151.5 269.04 L152.0 270.55 L152.5 272.14 L153.0 273.78 L153.5 275.48 L154.0 277.23 L154.5 279.00 L155.0 280.81 L155.5 282.64 L156.0 284.49 L156.5 286.35 L157.0 288.21 L157.5 290.08 L158.0 291.94 L158.5 293.79 L159.0 295.64 L159.5 297.47 L160.0 299.29 L160.5 301.09 L161.0 302.86 L161.5 304.62 L162.0 306.35 L162.5 308.06 L163.0 309.74 L163.5 311.39 L164.0 313.01 L164.5 314.61 L165.0 316.18 L165.5 317.71 L166.0 319.21 L166.5 320.69 L167.0 322.13 L167.5 323.54 L168.0 324.92 L168.5 326.27 L169.0 327.59 L169.5 328.88 L170.0 330.14 L170.5 331.37 L171.0 332.57 L171.5 333.74 L172.0 334.88 L172.5 335.99 L173.0 337.07 L173.5 338.13 L174.0 339.16 L174.5 340.16 L175.0 341.13 L175.5 342.08 L176.0 343.01 L176.5 343.91 L177.0 344.78 L177.5 345.63 L178.0 346.46 L178.5 347.27 L179.0 348.05 L179.5 348.81 L180.0 349.55 L180.5 350.27 L181.0 350.97 L181.5 351.65 L182.0 352.31 L182.5 352.95 L183.0 353.57 L183.5 354.17 L184.0 354.76 L184.5 355.33 L185.0 355.88 L185.5 356.42 L186.0 356.94 L186.5 357.44 L187.0 357.93 L187.5 358.40 L188.0 358.86 L188.5 359.31 L189.0 359.74 L189.5 360.16 L190.0 360.57 L190.5 360.97 L191.0 361.35 L191.5 361.72 L192.0 362.08 L192.5 362.43 L193.0 362.76 L193.5 363.09 L194.0 363.40 L194.5 363.71 L195.0 364.01 L195.5 364.29 L196.0 364.57 L196.5 364.84 L197.0 365.10 L197.5 365.35 L198.0 365.59 L198.5 365.83 L199.0 366.05 L199.5 366.27 L200.0 366.48 L200.5 366.69 L201.0 366.89 L201.5 367.08 L202.0 367.26 L202.5 367.44 L203.0 367.61 L203.5 367.78 L204.0 367.94 L204.5 368.09 L205.0 368.24 L205.5 368.39 L206.0 368.53 L206.5 368.66 L207.0 368.79 L207.5 368.91 L208.0 369.03 L208.5 369.15 L209.0 369.26 L209.5 369.37 L210.0 369.47 L210.5 369.57 L211.0 369.66 L211.5 369.76 L212.0 369.84 L212.5 369.93 L213.0 370.01 L213.5 370.09 L214.0 370.16 L214.5 370.24 L215.0 370.30 L215.5 370.37 L216.0 370.44 L216.5 370.50 L217.0 370.55 L217.5 370.61 L218.0 370.66 L218.5 370.72 L219.0 370.77 L219.5 370.81 L220.0 370.86 L220.5 370.90 L221.0 370.94 L221.5 370.98 L222.0 371.02 L222.5 371.06 L223.0 371.09 L223.5 371.12 L224.0 371.15 L224.5 371.18 L225.0 371.21 L225.5 371.24 L226.0 371.27 L226.5 371.29 L227.0 371.31 L227.5 371.34 L228.0 371.36 L228.5 371.38 L229.0 371.40 L229.5 371.41 L230.0 371.43 L230.5 371.45 L231.0 371.46 L231.5 371.48 L232.0 371.49 L232.5 371.50 L233.0 371.52 L233.5 371.53 L234.0 371.54 L234.5 371.55 L235.0 371.56 L235.5 371.57 L236.0 371.58 L236.5 371.59 L237.0 371.59 L237.5 371.60 L238.0 371.61 L238.5 371.61 L239.0 371.62 L239.5 371.63 L240.0 371.63 L240.5 371.64 L241.0 371.64 L241.5 371.65 L242.0 371.65 L242.5 371.65 L243.0 371.66 L243.5 371.66 L244.0 371.66 L244.5 371.67 L245.0 371.67 L245.5 371.67 L246.0 371.67 L246.5 371.68 L247.0 371.68 L247.5 371.68 L248.0 371.68 L248.5 371.68 L249.0 371.68 L249.5 371.69 L250.0 371.69 L250.5 371.69 L251.0 371.69 L251.5 371.69 L252.0 371.69 L252.5 371.69 L253.0 371.69 L253.5 371.69 L254.0 371.69 L254.5 371.69 L255.0 371.70 L255.5 371.70 L256.0 371.70 L256.5 371.70 L257.0 371.70 L257.5 371.70 L258.0 371.70 L258.5 371.70 L259.0 371.70 L259.5 371.70 L260.0 371.70 L260.5 371.70 L261.0 371.70 L261.5 371.70 L262.0 371.70 L262.5 371.70 L263.0 371.70 L263.5 371.70 L264.0 371.70 L264.5 371.70 L265.0 371.70 L265.5 371.70 L266.0 371.70 L266.5 371.70 L267.0 371.70 L267.5 371.70 L268.0 371.70 L268.5 371.70 L269.0 371.70 L269.5 371.70 L270.0 371.70 L270.5 371.70 L271.0 371.70 L271.5 371.70 L272.0 371.70 L272.5 371.70 L273.0 371.70 L273.5 371.70 L274.0 371.70 L274.5 371.70 L275.0 371.70 L275.5 371.70 L276.0 371.70 L276.5 371.70 L277.0 371.70 L277.5 371.70 L278.0 371.70 L278.5 371.70 L279.0 371.70 L279.5 371.70 L280.0 371.70 L280.5 371.70 L281.0 371.70 L281.5 371.70 L282.0 371.70 L282.5 371.70 L283.0 371.70 L283.5 371.70 L284.0 371.70 L284.5 371.70 L285.0 371.70 L285.5 371.70 L286.0 371.70 L286.5 371.70 L287.0 371.70 L287.5 371.70 L288.0 371.70 L288.5 371.70 L289.0 371.70 L289.5 371.70 L290.0 371.70 L290.5 371.70 L291.0 371.70 L291.5 371.70 L292.0 371.70 L292.5 371.70 L293.0 371.70 L293.5 371.70 L294.0 371.70 L294.5 371.70 L295.0 371.70 L295.5 371.70 L296.0 371.70 L296.5 371.70 L297.0 371.70 L297.5 371.70 L298.0 371.70 L298.5 371.70 L299.0 371.70 L299.5 371.70 L300.0 371.70 L302.0 371.70 L304.0 371.70 L306.0 371.70 L308.0 371.70 L310.0 371.70 L312.0 371.70 L314.0 371.70 L316.0 371.70 L318.0 371.70 L320.0 371.70 L322.0 371.70 L324.0 371.70 L326.0 371.70 L328.0 371.70 L330.0 371.70 L332.0 371.70 L334.0 371.70 L336.0 371.70 L338.0 371.70 L340.0 371.70 L342.0 371.70 L344.0 371.70 L346.0 371.70 L348.0 371.70 L350.0 371.70 L352.0 371.70 L354.0 371.70 L356.0 371.70 L358.0 371.70 L360.0 371.70 L362.0 371.70 L364.0 371.70 L366.0 371.70 L368.0 371.70 L370.0 371.70 L372.0 371.70 L374.0 371.70 L376.0 371.70 L378.0 371.70 L380.0 371.70 L382.0 371.70 L384.0 371.70 L386.0 371.70 L388.0 371.70 L390.0 371.70 L392.0 371.70 L394.0 371.70 L396.0 371.70 L398.0 371.70 L400.0 371.70 L402.0 371.70 L404.0 371.70 L406.0 371.70 L408.0 371.70 L410.0 371.70 L412.0 371.70 L414.0 371.70 L416.0 371.70 L418.0 371.70 L420.0 371.70 L422.0 371.70 L424.0 371.70 L426.0 371.70 L428.0 371.70 L430.0 371.70 L432.0 371.70 L434.0 371.70 L436.0 371.70 L438.0 371.70 L440.0 371.70 L442.0 371.70 L444.0 371.70 L446.0 371.70 L448.0 371.70 L450.0 371.70 L452.0 371.70 L454.0 371.70 L456.0 371.70 L458.0 371.70 L460.0 371.70 L462.0 371.70 L464.0 371.70 L466.0 371.70 L468.0 371.70 L470.0 371.70 L472.0 371.70 L474.0 371.70 L476.0 371.70 L478.0 371.70 L480.0 371.70 L482.0 371.70 L484.0 371.70 L486.0 371.70 L488.0 371.70 L490.0 371.70 L492.0 371.70 L494.0 371.70 L496.0 371.70 L498.0 371.70 L500.0 371.70 L502.0 371.70 L504.0 371.70 L506.0 371.70 L508.0 371.70 L510.0 371.70 L512.0 371.70 L514.0 371.70 L516.0 371.70 L518.0 371.70 L520.0 371.70 L522.0 371.70 L524.0 371.70 L526.0 371.70 L528.0 371.70 L530.0 371.70 L532.0 371.70 L534.0 371.70 L536.0 371.70 L538.0 371.70 L540.0 371.70 L542.0 371.70 L544.0 371.70 L546.0 371.70 L548.0 371.70 L550.0 371.70 L552.0 371.70 L554.0 371.70 L556.0 371.70 L558.0 371.70 L560.0 371.70 L562.0 371.70 L564.0 371.70 L566.0 371.70 L568.0 371.70 L570.0 371.70 L572.0 371.70 L574.0 371.70" stroke="#008080"/>
  <path d="M59.3 371.70 L59.8 371.70 L60.3 371.70 L60.8 371.70 L61.3 371.70 L61.8 371.70 L62.3 371.70 L62.8 371.70 L63.3 371.70 L63.8 371.70 L64.3 371.70 L64.8 371.70 L65.3 371.70 L65.8 371.69 L66.3 371.69 L66.8 371.69 L67.3 371.69 L67.8 371.69 L68.3 371.68 L68.8 371.68 L69.3 371.67 L69.8 371.66 L70.3 371.66 L70.8 371.65 L71.3 371.63 L71.8 371.62 L72.3 371.60 L72.8 371.58 L73.3 371.55 L73.8 371.52 L74.3 371.48 L74.8 371.43 L75.3 371.38 L75.8 371.32 L76.3 371.24 L76.8 371.15 L77.3 371.05 L77.8 370.93 L78.3 370.79 L78.8 370.63 L79.3 370.45 L79.8 370.23 L80.3 369.99 L80.8 369.71 L81.3 369.39 L81.8 369.03 L82.3 368.63 L82.8 368.17 L83.3 367.65 L83.8 367.08 L84.3 366.43 L84.8 365.72 L85.3 364.92 L85.8 364.04 L86.3 363.07 L86.8 362.01 L87.3 360.85 L87.8 359.58 L88.3 358.20 L88.8 356.71 L89.3 355.10 L89.8 353.36 L90.3 351.50 L90.8 349.51 L91.3 347.39 L91.8 345.14 L92.3 342.77 L92.8 340.26 L93.3 337.64 L93.8 334.89 L94.3 332.02 L94.8 329.05 L95.3 325.97 L95.8 322.81 L96.3 319.56 L96.8 316.24 L97.3 312.87 L97.8 309.45 L98.3 306.00 L98.8 302.55 L99.3 299.10 L99.8 295.67 L100.3 292.29 L100.8 288.97 L101.3 285.72 L101.8 282.58 L102.3 279.55 L102.8 276.66 L103.3 273.93 L103.8 271.37 L104.3 268.99 L104.8 266.83 L105.3 264.88 L105.8 263.16 L106.3 261.68 L106.8 260.45 L107.3 259.49 L107.8 258.79 L108.3 258.36 L108.8 258.20 L109.3 258.29 L109.8 258.59 L110.3 259.09 L110.8 259.78 L111.3 260.65 L111.8 261.68 L112.3 262.88 L112.8 264.22 L113.3 265.70 L113.8 267.30 L114.3 269.01 L114.8 270.83 L115.3 272.74 L115.8 274.72 L116.3 276.78 L116.8 278.90 L117.3 281.06 L117.8 283.27 L118.3 285.51 L118.8 287.78 L119.3 290.06 L119.8 292.35 L120.3 294.64 L120.8 296.93 L121.3 299.21 L121.8 301.47 L122.3 303.71 L122.8 305.93 L123.3 308.13 L123.8 310.28 L124.3 312.41 L124.8 314.49 L125.3 316.54 L125.8 318.54 L126.3 320.50 L126.8 322.41 L127.3 324.28 L127.8 326.09 L128.3 327.86 L128.8 329.58 L129.3 331.25 L129.8 332.87 L130.3 334.44 L130.8 335.96 L131.3 337.43 L131.8 338.85 L132.3 340.22 L132.8 341.55 L133.3 342.83 L133.8 344.06 L134.3 345.25 L134.8 346.39 L135.3 347.49 L135.8 348.55 L136.3 349.57 L136.8 350.55 L137.3 351.49 L137.8 352.39 L138.3 353.25 L138.8 354.08 L139.3 354.88 L139.8 355.64 L140.3 356.37 L140.8 357.07 L141.3 357.74 L141.8 358.38 L142.3 358.99 L142.8 359.58 L143.3 360.14 L143.8 360.67 L144.3 361.18 L144.8 361.67 L145.3 362.14 L145.8 362.59 L146.3 363.01 L146.8 363.42 L147.3 363.81 L147.8 364.18 L148.3 364.53 L148.8 364.87 L149.3 365.19 L149.8 365.49 L150.3 365.79 L150.8 366.07 L151.3 366.33 L151.8 366.58 L152.3 366.83 L152.8 367.06 L153.3 367.28 L153.8 367.48 L154.3 367.68 L154.8 367.87 L155.3 368.05 L155.8 368.23 L156.3 368.39 L156.8 368.55 L157.3 368.69 L157.8 368.84 L158.3 368.97 L158.8 369.10 L159.3 369.22 L159.8 369.34 L160.3 369.45 L160.8 369.56 L161.3 369.66 L161.8 369.75 L162.3 369.84 L162.8 369.93 L163.3 370.01 L163.8 370.09 L164.3 370.17 L164.8 370.24 L165.3 370.31 L165.8 370.37 L166.3 370.43 L166.8 370.49 L167.3 370.55 L167.8 370.60 L168.3 370.65 L168.8 370.70 L169.3 370.75 L169.8 370.79 L170.3 370.83 L170.8 370.87 L171.3 370.91 L171.8 370.95 L172.3 370.98 L172.8 371.01 L173.3 371.04 L173.8 371.07 L174.3 371.10 L174.8 371.13 L175.3 371.16 L175.8 371.18 L176.3 371.20 L176.8 371.23 L177.3 371.25 L177.8 371.27 L178.3 371.29 L178.8 371.30 L179.3 371.32 L179.8 371.34 L180.3 371.36 L180.8 371.37 L181.3 371.39 L181.8 371.40 L182.3 371.41 L182.8 371.42 L183.3 371.44 L183.8 371.45 L184.3 371.46 L184.8 371.47 L185.3 371.48 L185.8 371.49 L186.3 371.50 L186.8 371.51 L187.3 371.52 L187.8 371.52 L188.3 371.53 L188.8 371.54 L189.3 371.55 L189.8 371.55 L190.3 371.56 L190.8 371.56 L191.3 371.57 L191.8 371.58 L192.3 371.58 L192.8 371.59 L193.3 371.59 L193.8 371.60 L194.3 371.60 L194.8 371.60 L195.3 371.61 L195.8 371.61 L196.3 371.62 L196.8 371.62 L197.3 371.62 L197.8 371.63 L198.3 371.63 L198.8 371.63 L199.3 371.63 L199.8 371.64 L200.3 371.64 L200.8 371.64 L201.3 371.64 L201.8 371.65 L202.3 371.65 L202.8 371.65 L203.3 371.65 L203.8 371.65 L204.3 371.66 L204.8 371.66 L205.3 371.66 L205.8 371.66 L206.3 371.66 L206.8 371.66 L207.3 371.67 L207.8 371.67 L208.3 371.67 L208.8 371.67 L209.3 371.67 L209.8 371.67 L210.3 371.67 L210.8 371.67 L211.3 371.68 L211.8 371.68 L212.3 371.68 L212.8 371.68 L213.3 371.68 L213.8 371.68 L214.3 371.68 L214.8 371.68 L215.3 371.68 L215.8 371.68 L216.3 371.68 L216.8 371.68 L217.3 371.68 L217.8 371.69 L218.3 371.69 L218.8 371.69 L219.3 371.69 L219.8 371.69 L220.3 371.69 L220.8 371.69 L221.3 371.69 L221.8 371.69 L222.3 371.69 L222.8 371.69 L223.3 371.69 L223.8 371.69 L224.3 371.69 L224.8 371.69 L225.3 371.69 L225.8 371.69 L226.3 371.69 L226.8 371.69 L227.3 371.69 L227.8 371.69 L228.3 371.69 L228.8 371.69 L229.3 371.69 L229.8 371.69 L230.3 371.69 L230.8 371.69 L231.3 371.69 L231.8 371.69 L232.3 371.70 L232.8 371.70 L233.3 371.70 L233.8 371.70 L234.3 371.70 L234.8 371.70 L235.3 371.70 L235.8 371.70 L236.3 371.70 L236.8 371.70 L237.3 371.70 L237.8 371.70 L238.3 371.70 L238.8 371.70 L239.3 371.70 L239.8 371.70 L240.3 371.70 L240.8 371.70 L241.3 371.70 L241.8 371.70 L242.3 371.70 L242.8 371.70 L243.3 371.70 L243.8 371.70 L244.3 371.70 L244.8 371.70 L245.3 371.70 L245.8 371.70 L246.3 371.70 L246.8 371.70 L247.3 371.70 L247.8 371.70 L248.3 371.70 L248.8 371.70 L249.3 371.70 L249.8 371.70 L250.3 371.70 L250.8 371.70 L251.3 371.70 L251.8 371.70 L252.3 371.70 L252.8 371.70 L253.3 371.70 L253.8 371.70 L254.3 371.70 L254.8 371.70 L255.3 371.70 L255.8 371.70 L256.3 371.70 L256.8 371.70 L257.3 371.70 L257.8 371.70 L258.3 371.70 L258.8 371.70 L259.3 371.70 L259.8 371.70 L260.3 371.70 L260.8 371.70 L261.3 371.70 L261.8 371.70 L262.3 371.70 L262.8 371.70 L263.3 371.70 L263.8 371.70 L264.3 371.70 L264.8 371.70 L265.3 371.70 L265.8 371.70 L266.3 371.70 L266.8 371.70 L267.3 371.70 L267.8 371.70 L268.3 371.70 L268.8 371.70 L269.3 371.70 L269.8 371.70 L270.3 371.70 L270.8 371.70 L271.3 371.70 L271.8 371.70 L272.3 371.70 L272.8 371.70 L273.3 371.70 L273.8 371.70 L274.3 371.70 L274.8 371.70 L275.3 371.70 L275.8 371.70 L276.3 371.70 L276.8 371.70 L277.3 371.70 L277.8 371.70 L278.3 371.70 L278.8 371.70 L279.3 371.70 L279.8 371.70 L280.3 371.70 L280.8 371.70 L281.3 371.70 L281.8 371.70 L282.3 371.70 L282.8 371.70 L283.3 371.70 L283.8 371.70 L284.3 371.70 L284.8 371.70 L285.3 371.70 L285.8 371.70 L286.3 371.70 L286.8 371.70 L287.3 371.70 L287.8 371.70 L288.3 371.70 L288.8 371.70 L289.3 371.70 L289.8 371.70 L290.3 371.70 L290.8 371.70 L291.3 371.70 L291.8 371.70 L292.3 371.70 L292.8 371.70 L293.3 371.70 L293.8 371.70 L294.3 371.70 L294.8 371.70 L295.3 371.70 L295.8 371.70 L296.3 371.70 L296.8 371.70 L297.3 371.70 L297.8 371.70 L298.3 371.70 L298.8 371.70 L299.3 371.70 L299.8 371.70 L300.3 371.70 L302.3 371.70 L304.3 371.70 L306.3 371.70 L308.3 371.70 L310.3 371.70 L312.3 371.70 L314.3 371.70 L316.3 371.70 L318.3 371.70 L320.3 371.70 L322.3 371.70 L324.3 371.70 L326.3 371.70 L328.3 371.70 L330.3 371.70 L332.3 371.70 L334.3 371.70 L336.3 371.70 L338.3 371.70 L340.3 371.70 L342.3 371.70 L344.3 371.70 L346.3 371.70 L348.3 371.70 L350.3 371.70 L352.3 371.70 L354.3 371.70 L356.3 371.70 L358.3 371.70 L360.3 371.70 L362.3 371.70 L364.3 371.70 L366.3 371.70 L368.3 371.70 L370.3 371.70 L372.3 371.70 L374.3 371.70 L376.3 371.70 L378.3 371.70 L380.3 371.70 L382.3 371.70 L384.3 371.70 L386.3 371.70 L388.3 371.70 L390.3 371.70 L392.3 371.70 L394.3 371.70 L396.3 371.70 L398.3 371.70 L400.3 371.70 L402.3 371.70 L404.3 371.70 L406.3 371.70 L408.3 371.70 L410.3 371.70 L412.3 371.70 L414.3 371.70 L416.3 371.70 L418.3 371.70 L420.3 371.70 L422.3 371.70 L424.3 371.70 L426.3 371.70 L428.3 371.70 L430.3 371.70 L432.3 371.70 L434.3 371.70 L436.3 371.70 L438.3 371.70 L440.3 371.70 L442.3 371.70 L444.3 371.70 L446.3 371.70 L448.3 371.70 L450.3 371.70 L452.3 371.70 L454.3 371.70 L456.3 371.70 L458.3 371.70 L460.3 371.70 L462.3 371.70 L464.3 371.70 L466.3 371.70 L468.3 371.70 L470.3 371.70 L472.3 371.70 L474.3 371.70 L476.3 371.70 L478.3 371.70 L480.3 371.70 L482.3 371.70 L484.3 371.70 L486.3 371.70 L488.3 371.70 L490.3 371.70 L492.3 371.70 L494.3 371.70 L496.3 371.70 L498.3 371.70 L500.3 371.70 L502.3 371.70 L504.3 371.70 L506.3 371.70 L508.3 371.70 L510.3 371.70 L512.3 371.70 L514.3 371.70 L516.3 371.70 L518.3 371.70 L520.3 371.70 L522.3 371.70 L524.3 371.70 L526.3 371.70 L528.3 371.70 L530.3 371.70 L532.3 371.70 L534.3 371.70 L536.3 371.70 L538.3 371.70 L540.3 371.70 L542.3 371.70 L544.3 371.70 L546.3 371.70 L548.3 371.70 L550.3 371.70 L552.3 371.70 L554.3 371.70 L556.3 371.70 L558.3 371.70 L560.3 371.70 L562.3 371.70 L564.3 371.70 L566.3 371.70 L568.3 371.70 L570.3 371.70 L572.3 371.70 L574.3 371.70" stroke="#800000"/>
</g>

<!-- ion illustration -->
<g id="illus">
  <rect x="387" y="162.9" width="186" height="8.8" rx="1.5" fill="url(#subH)"/>
  <rect x="387" y="162.9" width="186" height="8.8" rx="1.5" fill="url(#subV)"/>
  <rect x="438.7" y="154.3" width="83.8" height="10.4" rx="1.5" fill="url(#sens)"/>
  <text transform="translate(483.3,160.9) scale(0.84,1)" font-size="6.8" font-weight="700" fill="#fff" stroke="#fff" stroke-width="0.12" text-anchor="middle">Sensor</text>
  <text transform="translate(555.7,160.9) scale(0.97,1)" font-size="6.8" font-weight="700" fill="#111" text-anchor="middle">Substrate</text>
  <use href="#ion" x="429.9" y="122.6"/>
  <use href="#ion" x="458.7" y="105.7"/>
  <use href="#ion" x="482.2" y="125.8"/>
  <use href="#ion" x="502.2" y="97.6"/>
  <use href="#ion" x="523.9" y="127.3"/>
</g>
<use href="#illus" x="0" y="189"/>

<!-- frame -->
<g stroke="#000" fill="none">
  <line x1="47" y1="6.3" x2="47" y2="392.3" stroke-width="2"/>
  <line x1="576" y1="6.3" x2="576" y2="392.3" stroke-width="2"/>
  <line x1="46" y1="391.3" x2="577" y2="391.3" stroke-width="2"/>
  <line x1="46" y1="199.3" x2="577" y2="199.3" stroke-width="2"/>
  <line x1="311.5" y1="383" x2="311.5" y2="391" stroke-width="1.8"/>
</g>

<!-- panel labels -->
<rect x="52" y="12.8" width="105.3" height="21.3" fill="#000"/>
<rect x="46.4" y="7.2" width="105.5" height="20.4" fill="#fff" stroke="#999" stroke-width="0.8"/>
<text transform="translate(48.3,23.1) scale(0.96,1)" font-size="14.2" fill="#111">Before Recovery</text>
<rect x="52" y="205.3" width="93.7" height="21.4" fill="#000"/>
<rect x="46.4" y="199.6" width="94.0" height="21" fill="#fff" stroke="#999" stroke-width="0.8"/>
<text transform="translate(47.8,215.4) scale(0.958,1)" font-size="14.2" fill="#111">After Recovery</text>
<line x1="46" y1="199.3" x2="577" y2="199.3" stroke="#000" stroke-width="2"/>
<line x1="151.5" y1="7.1" x2="577" y2="7.1" stroke="#000" stroke-width="1.7"/>
<line x1="46" y1="7.1" x2="151.5" y2="7.1" stroke="#333" stroke-width="1.6"/>

<!-- legend -->
<g stroke-width="2.4">
  <line x1="385.3" y1="21.1" x2="417.8" y2="21.1" stroke="#7f00ff"/>
  <line x1="385.3" y1="39.6" x2="417.8" y2="39.6" stroke="#008080"/>
  <line x1="385.3" y1="58.6" x2="417.8" y2="58.6" stroke="#800000"/>
</g>
<g font-size="14" fill="#111">
  <text transform="translate(419.7,25.6) scale(0.995,1)">ICP source power 100W</text>
  <text transform="translate(419.7,44.0) scale(0.995,1)">ICP source power 200W</text>
  <text transform="translate(419.7,62.4) scale(0.995,1)">ICP source power 300W</text>
</g>

<!-- axis labels -->
<g font-size="17.4" fill="#111" text-anchor="middle">
  <text transform="translate(46.75,413.8) scale(0.88,1)">0</text>
  <text transform="translate(311.3,413.8) scale(0.87,1)">50</text>
  <text transform="translate(576.3,413.8) scale(0.86,1)">100</text>
</g>
<text transform="translate(311.6,446.4) scale(0.938,1)" font-size="20.5" fill="#111" text-anchor="middle">Ion Energy(eV)</text>
<text transform="translate(27.1,198.6) rotate(-90)" font-size="20.6" fill="#111" text-anchor="middle">dI / dE</text>
</svg>
</body></html>
